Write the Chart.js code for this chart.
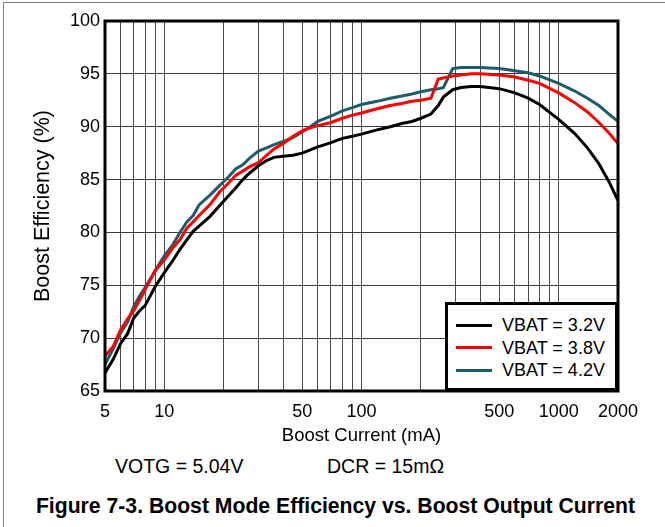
<!DOCTYPE html>
<html>
<head>
<meta charset="utf-8">
<script src="https://cdn.jsdelivr.net/npm/chart.js@4.4.1/dist/chart.umd.min.js"></script>
<style>
    body { margin: 0; background: #fff; font-family: Arial, "Liberation Sans", sans-serif; }
    #wrap { position: relative; width: 665px; height: 527px; overflow: hidden; background: #fff; }
    #frame { position: absolute; left: 3px; top: 2px; width: 700px; height: 600px; border-left: 1px solid #8a8a8a; border-top: 1px solid #8a8a8a; }
    #chart { position: absolute; left: 0; top: 0; }
    .legend { position: absolute; left: 445px; top: 302px; width: 173px; height: 89px; box-sizing: border-box; border: 3px solid #000; background: #fff; }
    .legend .item { position: absolute; left: 8px; height: 22px; font-size: 18px; line-height: 22px; color: #000; white-space: nowrap; }
    .legend .swatch { display: inline-block; width: 36px; height: 3px; vertical-align: middle; margin-right: 10px; position: relative; top: -1px; }
    .note { position: absolute; top: 455px; font-size: 19.5px; color: #000; }
    #caption { position: absolute; top: 494px; left: 0; width: 671px; text-align: center; font-weight: bold; font-size: 21.2px; color: #000; }
</style>
</head>
<body>
<div id="wrap">
    <div id="frame"></div>
    <canvas id="chart" width="665" height="450"></canvas>
    <div class="legend" id="legend"></div>
    <div class="note" style="left:115px">VOTG = 5.04V</div>
    <div class="note" style="left:327px">DCR = 15mΩ</div>
    <div id="caption">Figure 7-3. Boost Mode Efficiency vs. Boost Output Current</div>
</div>
<script>
// boost current (mA) shared by the three curves
const correntes = [5, 5.5, 6, 6.5, 7, 7.5, 8, 9, 10, 11, 12, 13, 14, 15, 17, 19, 21, 23, 25, 27,
    30, 33, 36, 40, 45, 50, 55, 60, 70, 80, 90, 100, 120, 140, 160, 180, 200, 225, 245, 260,
    290, 320, 360, 400, 500, 600, 700, 800, 1000, 1200, 1400, 1600, 1800, 2000];

// efficiency (%) per battery voltage
const efic32 = [66.7, 68.0, 69.5, 70.4, 71.9, 72.6, 73.1, 74.9, 76.2, 77.3, 78.4, 79.3, 80.1, 80.6, 81.5, 82.5, 83.4, 84.2, 85.0, 85.6,
    86.3, 86.8, 87.1, 87.2, 87.3, 87.5, 87.8, 88.1, 88.5, 88.9, 89.1, 89.3, 89.7, 90.0, 90.3, 90.5, 90.8, 91.2, 92.0, 92.8,
    93.5, 93.7, 93.8, 93.8, 93.6, 93.2, 92.7, 92.1, 90.7, 89.4, 88.0, 86.5, 84.8, 83.0];
const efic38 = [68.3, 69.2, 70.8, 71.8, 72.6, 73.6, 74.6, 76.4, 77.4, 78.5, 79.3, 80.4, 81.0, 81.6, 82.6, 83.8, 84.6, 85.4, 85.8, 86.2,
    86.6, 87.3, 87.9, 88.4, 89.1, 89.6, 89.9, 90.1, 90.4, 90.8, 91.1, 91.3, 91.7, 92.0, 92.2, 92.4, 92.5, 92.7, 94.5, 94.6,
    94.8, 94.9, 95.0, 95.0, 94.9, 94.7, 94.4, 94.1, 93.2, 92.3, 91.4, 90.4, 89.4, 88.4];
const efic42 = [67.5, 69.0, 70.5, 71.5, 73.0, 74.0, 74.8, 76.4, 77.8, 78.8, 80.0, 81.0, 81.6, 82.6, 83.5, 84.4, 85.2, 86.0, 86.4, 87.0,
    87.7, 88.0, 88.3, 88.6, 89.0, 89.5, 90.0, 90.5, 91.0, 91.5, 91.8, 92.1, 92.4, 92.7, 92.9, 93.1, 93.3, 93.5, 93.6, 93.7,
    95.5, 95.6, 95.6, 95.6, 95.5, 95.3, 95.1, 94.8, 94.1, 93.4, 92.7, 92.0, 91.2, 90.5];

const nomesSeries = ['VBAT = 3.2V', 'VBAT = 3.8V', 'VBAT = 4.2V'];
const coresSeries = ['#000000', '#ff0000', '#1a5d6b'];

// log grid lines and which of them get a label
const gradeX = [5, 6, 7, 8, 9, 10, 20, 30, 40, 50, 60, 70, 80, 90, 100, 200, 300, 400, 500, 600, 700, 800, 900, 1000, 2000];
const rotulosX = [5, 10, 50, 100, 500, 1000, 2000];
const ticksY = [65, 70, 75, 80, 85, 90, 95, 100];

function montarPontos(valores) {
    return correntes.map((c, i) => ({ x: c, y: valores[i] }));
}

const series = [efic32, efic38, efic42];

const molduraPlugin = {
    id: 'moldura',
    afterDraw(chart) {
        let a = chart.chartArea;
        let ctx = chart.ctx;
        ctx.save();
        ctx.strokeStyle = '#000';
        ctx.lineWidth = 3;
        ctx.strokeRect(a.left, a.top, a.right - a.left, a.bottom - a.top);
        ctx.restore();
    }
};

const familia = 'Arial, "Liberation Sans", sans-serif';
const fonteTicks = { family: familia, size: 18 };

new Chart(document.getElementById('chart'), {
    type: 'line',
    data: {
        datasets: series.map((s, i) => ({
            label: nomesSeries[i],
            data: montarPontos(s),
            borderColor: coresSeries[i],
            borderWidth: 3,
            pointRadius: 0,
            tension: 0,
            fill: false
        }))
    },
    options: {
        responsive: false,
        animation: false,
        devicePixelRatio: 1,
        layout: { padding: { left: 0, right: 47, top: 21, bottom: 0 } },
        plugins: {
            legend: { display: false },
            tooltip: { enabled: false }
        },
        scales: {
            x: {
                type: 'logarithmic',
                min: 5,
                max: 2000,
                afterBuildTicks: s => { s.ticks = gradeX.map(v => ({ value: v })); },
                afterFit: s => { s.height = 59; },
                grid: { color: '#4a4a4a', lineWidth: 1, drawTicks: false },
                border: { display: false },
                ticks: {
                    autoSkip: false,
                    maxRotation: 0,
                    padding: 10,
                    color: '#000',
                    font: fonteTicks,
                    callback: v => rotulosX.includes(v) ? String(v) : ''
                },
                title: { display: true, text: 'Boost Current (mA)', color: '#000', font: { family: familia, size: 18.5 }, padding: { top: 0, bottom: 3 } }
            },
            y: {
                min: 65,
                max: 100,
                afterBuildTicks: s => { s.ticks = ticksY.map(v => ({ value: v })); },
                afterFit: s => { s.width = 105; },
                grid: { color: '#3a3a3a', lineWidth: 1, drawTicks: false },
                border: { display: false },
                ticks: { padding: 5, color: '#000', font: fonteTicks },
                title: { display: true, text: 'Boost Efficiency (%)', color: '#000', font: { family: familia, size: 21.5 }, padding: { top: 30, bottom: 0 } }
            }
        }
    },
    plugins: [molduraPlugin]
});

// legend box inside the plot
let legendHtml = '';
nomesSeries.forEach((n, i) => {
    legendHtml += '<div class="item" style="top:' + (9 + i * 22.5) + 'px">' +
        '<span class="swatch" style="background:' + coresSeries[i] + '"></span>' + n + '</div>';
});
document.getElementById('legend').innerHTML = legendHtml;
</script>
</body>
</html>
